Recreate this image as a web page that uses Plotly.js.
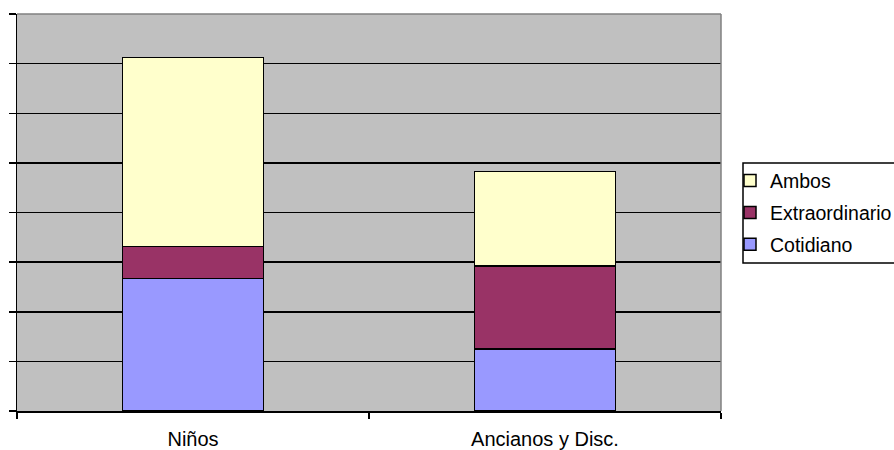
<!DOCTYPE html>
<html>
<head>
<meta charset="utf-8">
<script src="https://cdn.plot.ly/plotly-3.0.1.min.js"></script>
<style>html,body{margin:0;padding:0;background:#fff;}#chart{width:894px;height:450px;}</style>
</head>
<body>
<div id="chart"></div>
<script>
const categories = ["Niños", "Ancianos y Disc."];
const cotidiano = [2.67, 1.25];
const extraordinario = [0.64, 1.67];
const ambos = [3.81, 1.91];
const seriesNames = ["Cotidiano", "Extraordinario", "Ambos"];
const seriesColors = ["#9999FF", "#993366", "#FFFFCC"];
const seriesValues = [cotidiano, extraordinario, ambos];
const legendRanks = [3, 2, 1];

const FONT = "Arial, 'Liberation Sans', sans-serif";

const traces = seriesValues.map((vals, i) => ({
  type: "bar",
  name: seriesNames[i],
  legendgroup: "g" + i,
  legendrank: legendRanks[i],
  x: categories,
  y: vals,
  marker: { color: seriesColors[i], line: { color: "#000000", width: 1.5 } },
  hoverinfo: "none"
}));

const layout = {
  width: 894,
  height: 450,
  margin: { l: 17, r: 173, t: 14, b: 39, pad: 0, autoexpand: false },
  paper_bgcolor: "#ffffff",
  plot_bgcolor: "#C0C0C0",
  barmode: "stack",
  bargap: 0.6,
  showlegend: true,
  font: { family: FONT, size: 20, color: "#000000" },
  xaxis: {
    type: "category",
    showgrid: false,
    showline: true,
    linecolor: "#000000",
    linewidth: 1.5,
    ticks: "outside",
    tickson: "boundaries",
    ticklen: 6,
    tickwidth: 1.5,
    tickcolor: "#000000",
    ticklabelstandoff: 9,
    tickfont: { family: FONT, size: 20, color: "#000000" },
    zeroline: false,
    automargin: false
  },
  yaxis: {
    range: [0, 8],
    dtick: 1,
    tick0: 0,
    showticklabels: false,
    showgrid: true,
    gridcolor: "#000000",
    gridwidth: 1.5,
    showline: true,
    linecolor: "#000000",
    linewidth: 1.5,
    ticks: "outside",
    ticklen: 7,
    tickwidth: 1.5,
    tickcolor: "#000000",
    zeroline: false,
    automargin: false
  },
  legend: {
    x: 1.0128,
    xanchor: "left",
    y: 0.499,
    yanchor: "middle",
    traceorder: "grouped",
    tracegroupgap: 3.5,
    bgcolor: "rgba(0,0,0,0)",
    borderwidth: 0,
    itemwidth: 30,
    font: { family: FONT, size: 19.5, color: "#000000" }
  },
  shapes: [
    { type: "line", xref: "paper", yref: "paper", x0: 0, x1: 1, y0: 1, y1: 1, line: { color: "#808080", width: 1.5 }, layer: "above" },
    { type: "line", xref: "paper", yref: "paper", x0: 1, x1: 1, y0: 0, y1: 1, line: { color: "#808080", width: 1.5 }, layer: "above" },
    { type: "rect", xref: "paper", yref: "paper", x0: 1.03125, x1: 1.35, y0: 0.3728, y1: 0.6247, fillcolor: "#ffffff", line: { color: "#000000", width: 1.5 }, layer: "below" }
  ]
};

Plotly.newPlot("chart", traces, layout, { displayModeBar: false, staticPlot: true });
</script>
</body>
</html>
